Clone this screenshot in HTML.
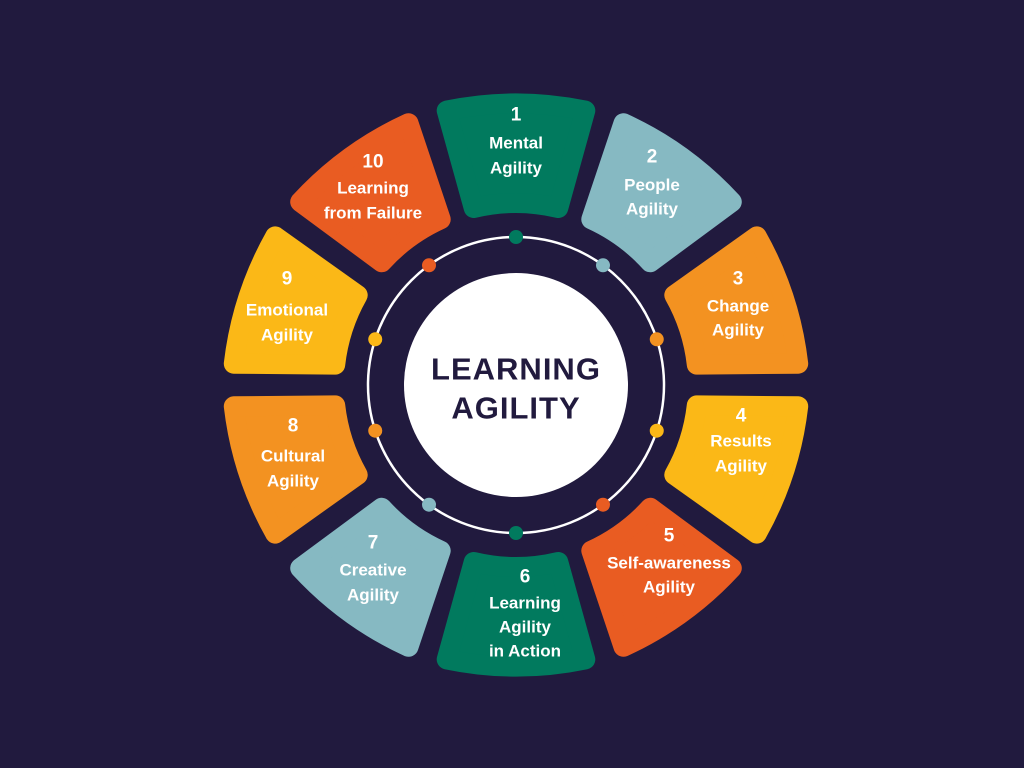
<!DOCTYPE html>
<html><head><meta charset="utf-8"><style>
html,body{margin:0;padding:0;background:#211a3e;}
svg{display:block}
text{font-family:"Liberation Sans",sans-serif;font-weight:bold;fill:#fff;text-anchor:middle;dominant-baseline:central;font-size:17px}
.n{font-size:19px}
.c{fill:#211a3e;font-size:31px;letter-spacing:1px}
</style></head><body>
<svg id="s" width="1024" height="768" viewBox="0 0 1024 768">
<rect width="1024" height="768" fill="#211a3e"/>
<g id="segs"></g>
<circle cx="516" cy="385" r="148" fill="none" stroke="#fff" stroke-width="2.5"/>
<g id="dots"></g>
<circle cx="516" cy="385" r="112" fill="#fff"/>
<text class="c" x="516" y="369">LEARNING</text>
<text class="c" x="516" y="408">AGILITY</text>

<text class="n" x="516" y="115">1</text><text x="516" y="143">Mental</text><text x="516" y="168">Agility</text>
<text class="n" x="652" y="157">2</text><text x="652" y="185">People</text><text x="652" y="209">Agility</text>
<text class="n" x="738" y="279">3</text><text x="738" y="306">Change</text><text x="738" y="330">Agility</text>
<text class="n" x="741" y="416">4</text><text x="741" y="441">Results</text><text x="741" y="466">Agility</text>
<text class="n" x="669" y="536">5</text><text x="669" y="563">Self-awareness</text><text x="669" y="587">Agility</text>
<text class="n" x="525" y="577">6</text><text x="525" y="603">Learning</text><text x="525" y="627">Agility</text><text x="525" y="651">in Action</text>
<text class="n" x="373" y="543">7</text><text x="373" y="570">Creative</text><text x="373" y="595">Agility</text>
<text class="n" x="293" y="426">8</text><text x="293" y="456">Cultural</text><text x="293" y="481">Agility</text>
<text class="n" x="287" y="279">9</text><text x="287" y="310">Emotional</text><text x="287" y="335">Agility</text>
<text class="n" x="373" y="162">10</text><text x="373" y="188">Learning</text><text x="373" y="213">from Failure</text>
</svg>
<script>
var cx=516,cy=385,cols=["#017a5e","#86b9c2","#f39221","#fbb817","#e95c22","#017a5e","#86b9c2","#f39221","#fbb817","#e95c22"];
var segs=document.getElementById("segs"),dots=document.getElementById("dots"),NS="http://www.w3.org/2000/svg";
function P(r,a){a=a*Math.PI/180;return (cx+r*Math.cos(a)).toFixed(1)+","+(cy+r*Math.sin(a)).toFixed(1);}
for(var k=0;k<10;k++){
 var c=-90+36*k,ro=283,ri=182,pad=10;
 var wide=(k==0||k==5);
 var hO=wide?16.2:15.7, hI=wide?16.6:14.7;
 var ho=hO-pad/ro*180/Math.PI, hi=hI-pad/ri*180/Math.PI;
 var d="M"+P(ri,c-hi)+" L"+P(ro,c-ho)+" A340,340 0 0 1 "+P(ro,c+ho)+" L"+P(ri,c+hi)+" A"+ri+","+ri+" 0 0 0 "+P(ri,c-hi)+"Z";
 var p=document.createElementNS(NS,"path");p.setAttribute("d",d);p.setAttribute("fill",cols[k]);p.setAttribute("stroke",cols[k]);p.setAttribute("stroke-width",20);p.setAttribute("stroke-linejoin","round");segs.appendChild(p);
 var a=c*Math.PI/180,q=document.createElementNS(NS,"circle");q.setAttribute("cx",cx+148*Math.cos(a));q.setAttribute("cy",cy+148*Math.sin(a));q.setAttribute("r",7);q.setAttribute("fill",cols[k]);dots.appendChild(q);
}
</script>
</body></html>
